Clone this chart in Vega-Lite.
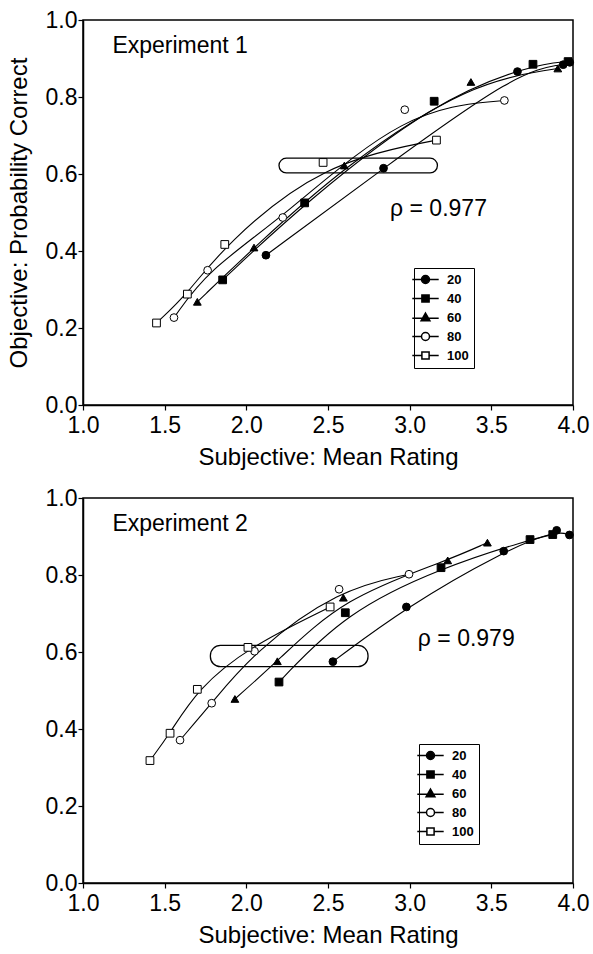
{
  "$schema": "https://vega.github.io/schema/vega-lite/v6.json",
  "background": "white",
  "padding": {"left": 6, "top": 8, "right": 5, "bottom": 2},
  "spacing": 16,
  "datasets": {
    "pts": [
      {"exp": 1, "level": "20", "x": 2.12, "y": 0.389},
      {"exp": 1, "level": "20", "x": 2.84, "y": 0.615},
      {"exp": 1, "level": "20", "x": 3.66, "y": 0.866},
      {"exp": 1, "level": "20", "x": 3.94, "y": 0.884},
      {"exp": 1, "level": "20", "x": 3.98, "y": 0.890},
      {"exp": 1, "level": "40", "x": 1.855, "y": 0.325},
      {"exp": 1, "level": "40", "x": 2.357, "y": 0.525},
      {"exp": 1, "level": "40", "x": 3.15, "y": 0.789},
      {"exp": 1, "level": "40", "x": 3.755, "y": 0.885},
      {"exp": 1, "level": "40", "x": 3.97, "y": 0.892},
      {"exp": 1, "level": "60", "x": 1.70, "y": 0.268},
      {"exp": 1, "level": "60", "x": 2.047, "y": 0.409},
      {"exp": 1, "level": "60", "x": 2.60, "y": 0.622},
      {"exp": 1, "level": "60", "x": 3.375, "y": 0.839},
      {"exp": 1, "level": "60", "x": 3.907, "y": 0.874},
      {"exp": 1, "level": "80", "x": 1.557, "y": 0.227},
      {"exp": 1, "level": "80", "x": 1.763, "y": 0.350},
      {"exp": 1, "level": "80", "x": 2.223, "y": 0.487},
      {"exp": 1, "level": "80", "x": 2.97, "y": 0.767},
      {"exp": 1, "level": "80", "x": 3.58, "y": 0.791},
      {"exp": 1, "level": "100", "x": 1.45, "y": 0.213},
      {"exp": 1, "level": "100", "x": 1.639, "y": 0.288},
      {"exp": 1, "level": "100", "x": 1.868, "y": 0.417},
      {"exp": 1, "level": "100", "x": 2.47, "y": 0.630},
      {"exp": 1, "level": "100", "x": 3.164, "y": 0.688},
      {"exp": 2, "level": "20", "x": 2.53, "y": 0.575},
      {"exp": 2, "level": "20", "x": 2.98, "y": 0.717},
      {"exp": 2, "level": "20", "x": 3.576, "y": 0.862},
      {"exp": 2, "level": "20", "x": 3.90, "y": 0.916},
      {"exp": 2, "level": "20", "x": 3.978, "y": 0.904},
      {"exp": 2, "level": "40", "x": 2.20, "y": 0.522},
      {"exp": 2, "level": "40", "x": 2.606, "y": 0.702},
      {"exp": 2, "level": "40", "x": 3.192, "y": 0.819},
      {"exp": 2, "level": "40", "x": 3.737, "y": 0.892},
      {"exp": 2, "level": "40", "x": 3.876, "y": 0.905},
      {"exp": 2, "level": "60", "x": 1.93, "y": 0.478},
      {"exp": 2, "level": "60", "x": 2.19, "y": 0.576},
      {"exp": 2, "level": "60", "x": 2.594, "y": 0.741},
      {"exp": 2, "level": "60", "x": 3.233, "y": 0.838},
      {"exp": 2, "level": "60", "x": 3.476, "y": 0.884},
      {"exp": 2, "level": "80", "x": 1.594, "y": 0.371},
      {"exp": 2, "level": "80", "x": 1.788, "y": 0.467},
      {"exp": 2, "level": "80", "x": 2.05, "y": 0.602},
      {"exp": 2, "level": "80", "x": 2.568, "y": 0.763},
      {"exp": 2, "level": "80", "x": 2.996, "y": 0.802},
      {"exp": 2, "level": "100", "x": 1.41, "y": 0.318},
      {"exp": 2, "level": "100", "x": 1.533, "y": 0.389},
      {"exp": 2, "level": "100", "x": 1.70, "y": 0.503},
      {"exp": 2, "level": "100", "x": 2.01, "y": 0.612},
      {"exp": 2, "level": "100", "x": 2.513, "y": 0.717}
    ],
    "boxes": [
      {"exp": 1, "x1": 2.20, "x2": 3.17, "y1": 0.603, "y2": 0.641},
      {"exp": 2, "x1": 1.78, "x2": 2.745, "y1": 0.562, "y2": 0.617}
    ],
    "notes": [
      {"exp": 1, "x": 1.18, "y": 0.932, "label": "Experiment 1"},
      {"exp": 1, "x": 2.88, "y": 0.509, "label": "ρ = 0.977"},
      {"exp": 2, "x": 1.18, "y": 0.932, "label": "Experiment 2"},
      {"exp": 2, "x": 3.05, "y": 0.633, "label": "ρ = 0.979"}
    ]
  },
  "vconcat": [
    {
      "width": 490,
      "height": 385,
      "resolve": {"scale": {"shape": "independent", "fill": "independent"}, "legend": {"shape": "independent", "fill": "independent"}},
      "layer": [
        {
          "data": {"name": "boxes"},
          "transform": [{"filter": "datum.exp == 1"}],
          "mark": {"type": "rect", "fill": null, "stroke": "black", "strokeWidth": 1.3, "cornerRadius": 8},
          "encoding": {
            "x": {"field": "x1", "type": "quantitative", "scale": {"domain": [1, 4]}, "title": "Subjective: Mean Rating", "axis": {"values": [1, 1.5, 2, 2.5, 3, 3.5, 4], "format": ".1f"}},
            "x2": {"field": "x2"},
            "y": {"field": "y1", "type": "quantitative", "scale": {"domain": [0, 1]}, "title": "Objective: Probability Correct", "axis": {"values": [0, 0.2, 0.4, 0.6, 0.8, 1], "format": ".1f"}},
            "y2": {"field": "y2"}
          }
        },
        {
          "data": {"name": "pts"},
          "transform": [{"filter": "datum.exp == 1"}],
          "mark": {"type": "line", "interpolate": "basis", "color": "black", "strokeWidth": 1.1},
          "encoding": {
            "x": {"field": "x", "type": "quantitative", "title": "Subjective: Mean Rating"},
            "y": {"field": "y", "type": "quantitative", "title": "Objective: Probability Correct"},
            "detail": {"field": "level", "type": "nominal"}
          }
        },
        {
          "data": {"name": "pts"},
          "transform": [{"filter": "datum.exp == 1"}],
          "mark": {"type": "point", "filled": true, "stroke": "black", "strokeWidth": 1, "size": 60, "opacity": 1},
          "encoding": {
            "x": {"field": "x", "type": "quantitative", "title": "Subjective: Mean Rating"},
            "y": {"field": "y", "type": "quantitative", "title": "Objective: Probability Correct"},
            "shape": {"field": "level", "type": "nominal", "scale": {"domain": ["20", "40", "60", "80", "100"], "range": ["circle", "square", "triangle-up", "circle", "square"]}, "legend": null},
            "fill": {"field": "level", "type": "nominal", "scale": {"domain": ["20", "40", "60", "80", "100"], "range": ["black", "black", "black", "white", "white"]}, "legend": null}
          }
        },
        {
          "data": {"name": "pts"},
          "transform": [{"filter": "datum.exp == 0"}],
          "mark": {"type": "point", "filled": true, "stroke": "black", "strokeWidth": 1, "size": 64, "opacity": 1},
          "encoding": {
            "x": {"field": "x", "type": "quantitative", "title": "Subjective: Mean Rating"},
            "y": {"field": "y", "type": "quantitative", "title": "Objective: Probability Correct"},
            "shape": {"field": "level", "type": "nominal", "scale": {"domain": ["20", "40", "60", "80", "100"], "range": ["M-3.3,0H-1M1,0H3.3M1,0C1,0.55 0.55,1 0,1C-0.55,1 -1,0.55 -1,0C-1,-0.55 -0.55,-1 0,-1C0.55,-1 1,-0.55 1,0Z", "M-3.3,0H-0.9M0.9,0H3.3M-0.9,-0.9H0.9V0.9H-0.9Z", "M-3.3,0.2H-0.75M0.75,0.2H3.3M0,-1.1L1.1,0.8H-1.1Z", "M-3.3,0H-1M1,0H3.3M1,0C1,0.55 0.55,1 0,1C-0.55,1 -1,0.55 -1,0C-1,-0.55 -0.55,-1 0,-1C0.55,-1 1,-0.55 1,0Z", "M-3.3,0H-0.9M0.9,0H3.3M-0.9,-0.9H0.9V0.9H-0.9Z"]},
              "legend": {"orient": "none", "legendX": 331, "legendY": 248, "title": null, "strokeColor": "black", "padding": 5, "symbolSize": 64, "labelFontSize": 13, "labelFontWeight": "bold", "labelOffset": 15, "rowPadding": 4, "cornerRadius": 0}},
            "fill": {"field": "level", "type": "nominal", "scale": {"domain": ["20", "40", "60", "80", "100"], "range": ["black", "black", "black", "white", "white"]},
              "legend": {"orient": "none", "legendX": 331, "legendY": 248, "title": null, "strokeColor": "black", "padding": 5, "symbolSize": 64, "labelFontSize": 13, "labelFontWeight": "bold", "labelOffset": 15, "rowPadding": 4, "cornerRadius": 0}}
          }
        },
        {
          "data": {"name": "notes"},
          "transform": [{"filter": "datum.exp == 1"}],
          "mark": {"type": "text", "align": "left", "baseline": "middle", "fontSize": 23, "font": "Liberation Sans", "color": "black"},
          "encoding": {
            "x": {"field": "x", "type": "quantitative", "title": "Subjective: Mean Rating"},
            "y": {"field": "y", "type": "quantitative", "title": "Objective: Probability Correct"},
            "text": {"field": "label", "type": "nominal"}
          }
        }
      ]
    },
    {
      "width": 490,
      "height": 385,
      "resolve": {"scale": {"shape": "independent", "fill": "independent"}, "legend": {"shape": "independent", "fill": "independent"}},
      "layer": [
        {
          "data": {"name": "boxes"},
          "transform": [{"filter": "datum.exp == 2"}],
          "mark": {"type": "rect", "fill": null, "stroke": "black", "strokeWidth": 1.3, "cornerRadius": 10},
          "encoding": {
            "x": {"field": "x1", "type": "quantitative", "scale": {"domain": [1, 4]}, "title": "Subjective: Mean Rating", "axis": {"values": [1, 1.5, 2, 2.5, 3, 3.5, 4], "format": ".1f"}},
            "x2": {"field": "x2"},
            "y": {"field": "y1", "type": "quantitative", "scale": {"domain": [0, 1]}, "title": null, "axis": {"values": [0, 0.2, 0.4, 0.6, 0.8, 1], "format": ".1f"}},
            "y2": {"field": "y2"}
          }
        },
        {
          "data": {"name": "pts"},
          "transform": [{"filter": "datum.exp == 2"}],
          "mark": {"type": "line", "interpolate": "basis", "color": "black", "strokeWidth": 1.1},
          "encoding": {
            "x": {"field": "x", "type": "quantitative", "title": "Subjective: Mean Rating"},
            "y": {"field": "y", "type": "quantitative", "title": null},
            "detail": {"field": "level", "type": "nominal"}
          }
        },
        {
          "data": {"name": "pts"},
          "transform": [{"filter": "datum.exp == 2"}],
          "mark": {"type": "point", "filled": true, "stroke": "black", "strokeWidth": 1, "size": 60, "opacity": 1},
          "encoding": {
            "x": {"field": "x", "type": "quantitative", "title": "Subjective: Mean Rating"},
            "y": {"field": "y", "type": "quantitative", "title": null},
            "shape": {"field": "level", "type": "nominal", "scale": {"domain": ["20", "40", "60", "80", "100"], "range": ["circle", "square", "triangle-up", "circle", "square"]}, "legend": null},
            "fill": {"field": "level", "type": "nominal", "scale": {"domain": ["20", "40", "60", "80", "100"], "range": ["black", "black", "black", "white", "white"]}, "legend": null}
          }
        },
        {
          "data": {"name": "pts"},
          "transform": [{"filter": "datum.exp == 0"}],
          "mark": {"type": "point", "filled": true, "stroke": "black", "strokeWidth": 1, "size": 64, "opacity": 1},
          "encoding": {
            "x": {"field": "x", "type": "quantitative", "title": "Subjective: Mean Rating"},
            "y": {"field": "y", "type": "quantitative", "title": null},
            "shape": {"field": "level", "type": "nominal", "scale": {"domain": ["20", "40", "60", "80", "100"], "range": ["M-3.3,0H-1M1,0H3.3M1,0C1,0.55 0.55,1 0,1C-0.55,1 -1,0.55 -1,0C-1,-0.55 -0.55,-1 0,-1C0.55,-1 1,-0.55 1,0Z", "M-3.3,0H-0.9M0.9,0H3.3M-0.9,-0.9H0.9V0.9H-0.9Z", "M-3.3,0.2H-0.75M0.75,0.2H3.3M0,-1.1L1.1,0.8H-1.1Z", "M-3.3,0H-1M1,0H3.3M1,0C1,0.55 0.55,1 0,1C-0.55,1 -1,0.55 -1,0C-1,-0.55 -0.55,-1 0,-1C0.55,-1 1,-0.55 1,0Z", "M-3.3,0H-0.9M0.9,0H3.3M-0.9,-0.9H0.9V0.9H-0.9Z"]},
              "legend": {"orient": "none", "legendX": 336, "legendY": 246, "title": null, "strokeColor": "black", "padding": 5, "symbolSize": 64, "labelFontSize": 13, "labelFontWeight": "bold", "labelOffset": 15, "rowPadding": 4, "cornerRadius": 0}},
            "fill": {"field": "level", "type": "nominal", "scale": {"domain": ["20", "40", "60", "80", "100"], "range": ["black", "black", "black", "white", "white"]},
              "legend": {"orient": "none", "legendX": 336, "legendY": 246, "title": null, "strokeColor": "black", "padding": 5, "symbolSize": 64, "labelFontSize": 13, "labelFontWeight": "bold", "labelOffset": 15, "rowPadding": 4, "cornerRadius": 0}}
          }
        },
        {
          "data": {"name": "notes"},
          "transform": [{"filter": "datum.exp == 2"}],
          "mark": {"type": "text", "align": "left", "baseline": "middle", "fontSize": 23, "font": "Liberation Sans", "color": "black"},
          "encoding": {
            "x": {"field": "x", "type": "quantitative", "title": "Subjective: Mean Rating"},
            "y": {"field": "y", "type": "quantitative", "title": null},
            "text": {"field": "label", "type": "nominal"}
          }
        }
      ]
    }
  ],
  "config": {
    "font": "Liberation Sans",
    "view": {"stroke": "black", "strokeWidth": 1.5},
    "axis": {
      "grid": false,
      "domainColor": "black",
      "domainWidth": 1.5,
      "tickColor": "black",
      "tickSize": 5,
      "tickWidth": 1.2,
      "labelColor": "black",
      "labelFont": "Liberation Sans",
      "labelFontSize": 23,
      "labelFlush": false,
      "labelOverlap": false,
      "titleColor": "black",
      "titleFont": "Liberation Sans",
      "titleFontSize": 24,
      "titleFontWeight": "normal"
    },
    "axisX": {"labelPadding": 4, "titlePadding": 8},
    "axisY": {"labelPadding": 1, "titlePadding": 14},
    "legend": {"labelFont": "Liberation Sans", "labelColor": "black"}
  }
}
